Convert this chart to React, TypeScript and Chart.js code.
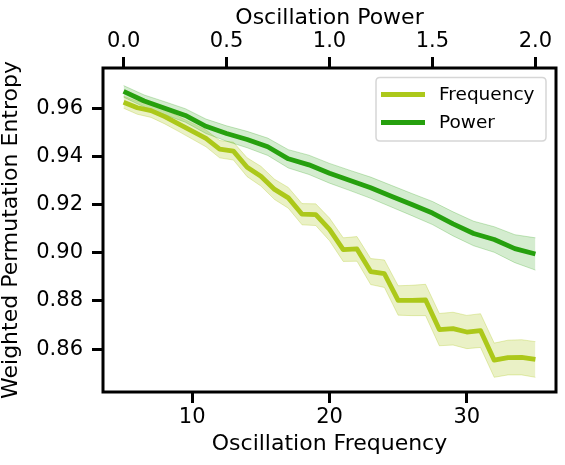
import React, { useEffect, useRef } from "react";
import { Chart, registerables } from "chart.js";

Chart.register(...registerables);

// ---- Data ----
const frequencies = [5, 6, 7, 8, 9, 10, 11, 12, 13, 14, 15, 16, 17, 18, 19, 20, 21, 22, 23, 24, 25, 26, 27, 28, 29, 30, 31, 32, 33, 34, 35];
const freqMean = [
  0.9625, 0.9602, 0.959, 0.9565, 0.9535, 0.9505, 0.9475, 0.943, 0.9422, 0.9355,
  0.9318, 0.9263, 0.9228, 0.916, 0.9158, 0.9097, 0.9013, 0.9016, 0.8922, 0.8913,
  0.8802, 0.8802, 0.8804, 0.8681, 0.8685, 0.8671, 0.8677, 0.8554, 0.8565, 0.8566, 0.8557,
];
const freqErr = [
  0.0025, 0.0027, 0.0028, 0.003, 0.0031, 0.0033, 0.0035, 0.0036, 0.0037, 0.0039,
  0.0041, 0.0042, 0.0043, 0.0044, 0.0045, 0.0047, 0.0049, 0.0051, 0.0054, 0.0057,
  0.0061, 0.0063, 0.0065, 0.0067, 0.0068, 0.0069, 0.007, 0.0071, 0.0072, 0.0073, 0.0074,
];

const powers = [0, 0.1, 0.2, 0.3, 0.4, 0.5, 0.6, 0.7, 0.8, 0.9, 1.0, 1.1, 1.2, 1.3, 1.4, 1.5, 1.6, 1.7, 1.8, 1.9, 2.0];
const powerMean = [
  0.967, 0.963, 0.96, 0.957, 0.9525, 0.9495, 0.947, 0.944, 0.939, 0.9365,
  0.933, 0.93, 0.927, 0.9235, 0.92, 0.9165, 0.912, 0.908, 0.9055, 0.9017, 0.8995,
];
const powerErr = [
  0.0024, 0.0025, 0.0027, 0.0028, 0.003, 0.0032, 0.0034, 0.0036, 0.0038, 0.004,
  0.0041, 0.0042, 0.0044, 0.0045, 0.0046, 0.0048, 0.005, 0.0051, 0.0053, 0.0058, 0.0067,
];

const freqTicks = [10, 20, 30];
const powerTicks = [0, 0.5, 1.0, 1.5, 2.0];
const entropyTicks = [0.86, 0.88, 0.9, 0.92, 0.94, 0.96];

const seriesLabels = ["Frequency", "Power"];

// ---- Styles ----
const FREQ_RGB = "172,200,26";
const POWER_RGB = "38,160,14";
const FONT = "'DejaVu Sans', sans-serif";

const framePlugin = {
  id: "frame",
  afterDraw(chart: any) {
    const { ctx, chartArea } = chart;
    ctx.save();
    ctx.strokeStyle = "#000";
    ctx.lineWidth = 3;
    ctx.strokeRect(chartArea.left, chartArea.top, chartArea.right - chartArea.left, chartArea.bottom - chartArea.top);
    ctx.restore();
  },
};

const legendPlugin = {
  id: "customLegend",
  afterDraw(chart: any) {
    const { ctx, chartArea } = chart;
    const x = chartArea.right - 180;
    const y = chartArea.top + 9.5;
    const w = 170;
    const h = 63.5;
    const r = 4;
    ctx.save();
    ctx.beginPath();
    ctx.moveTo(x + r, y);
    ctx.lineTo(x + w - r, y);
    ctx.quadraticCurveTo(x + w, y, x + w, y + r);
    ctx.lineTo(x + w, y + h - r);
    ctx.quadraticCurveTo(x + w, y + h, x + w - r, y + h);
    ctx.lineTo(x + r, y + h);
    ctx.quadraticCurveTo(x, y + h, x, y + h - r);
    ctx.lineTo(x, y + r);
    ctx.quadraticCurveTo(x, y, x + r, y);
    ctx.closePath();
    ctx.fillStyle = "rgba(255,255,255,0.8)";
    ctx.fill();
    ctx.strokeStyle = "#d6d6d6";
    ctx.lineWidth = 1.5;
    ctx.stroke();
    const colors = [`rgb(${FREQ_RGB})`, `rgb(${POWER_RGB})`];
    const rows = [y + 17, y + 45];
    ctx.font = `18.5px ${FONT}`;
    ctx.textBaseline = "middle";
    ctx.textAlign = "left";
    seriesLabels.forEach((label, i) => {
      ctx.beginPath();
      ctx.strokeStyle = colors[i];
      ctx.lineWidth = 4.8;
      ctx.moveTo(x + 5, rows[i]);
      ctx.lineTo(x + 49, rows[i]);
      ctx.stroke();
      ctx.fillStyle = "#000";
      ctx.fillText(label, x + 63, rows[i] + 1);
    });
    ctx.restore();
  },
};

export default function App() {
  const canvasRef = useRef<HTMLCanvasElement | null>(null);

  useEffect(() => {
    if (!canvasRef.current) return;
    const freqPts = frequencies.map((f, i) => ({ x: f, y: freqMean[i] }));
    const freqLow = frequencies.map((f, i) => ({ x: f, y: freqMean[i] - freqErr[i] }));
    const freqHigh = frequencies.map((f, i) => ({ x: f, y: freqMean[i] + freqErr[i] }));
    const powPts = powers.map((p, i) => ({ x: p, y: powerMean[i] }));
    const powLow = powers.map((p, i) => ({ x: p, y: powerMean[i] - powerErr[i] }));
    const powHigh = powers.map((p, i) => ({ x: p, y: powerMean[i] + powerErr[i] }));

    const tickFont = { family: FONT, size: 21 };
    const titleFont = { family: FONT, size: 22 };
    const gridOpts = { drawOnChartArea: false, drawTicks: true, tickLength: 11, tickWidth: 3, tickColor: "#000" };

    const chart = new Chart(canvasRef.current, {
      type: "line",
      data: {
        datasets: [
          {
            label: seriesLabels[0],
            data: freqPts,
            xAxisID: "x",
            yAxisID: "y",
            borderColor: `rgb(${FREQ_RGB})`,
            borderWidth: 4.8,
            borderJoinStyle: "round",
            pointRadius: 0,
            fill: false,
            order: 1,
          },
          {
            label: seriesLabels[1],
            data: powPts,
            xAxisID: "x2",
            yAxisID: "y",
            borderColor: `rgb(${POWER_RGB})`,
            borderWidth: 4.8,
            borderJoinStyle: "round",
            pointRadius: 0,
            fill: false,
            order: 0,
          },
          {
            label: "freqLow",
            data: freqLow,
            xAxisID: "x",
            yAxisID: "y",
            borderColor: `rgba(${FREQ_RGB},0.3)`,
            borderWidth: 1,
            pointRadius: 0,
            fill: false,
            order: 3,
          },
          {
            label: "freqHigh",
            data: freqHigh,
            xAxisID: "x",
            yAxisID: "y",
            borderColor: `rgba(${FREQ_RGB},0.3)`,
            backgroundColor: `rgba(${FREQ_RGB},0.25)`,
            borderWidth: 1,
            pointRadius: 0,
            fill: "-1",
            order: 3,
          },
          {
            label: "powLow",
            data: powLow,
            xAxisID: "x2",
            yAxisID: "y",
            borderColor: `rgba(${POWER_RGB},0.25)`,
            borderWidth: 1,
            pointRadius: 0,
            fill: false,
            order: 2,
          },
          {
            label: "powHigh",
            data: powHigh,
            xAxisID: "x2",
            yAxisID: "y",
            borderColor: `rgba(${POWER_RGB},0.25)`,
            backgroundColor: `rgba(${POWER_RGB},0.2)`,
            borderWidth: 1,
            pointRadius: 0,
            fill: "-1",
            order: 2,
          },
        ],
      },
      options: {
        animation: false,
        responsive: false,
        maintainAspectRatio: false,
        layout: { padding: { left: 0, right: 9, top: 0, bottom: 0 } },
        plugins: { legend: { display: false }, tooltip: { enabled: false } },
        scales: {
          x: {
            type: "linear",
            position: "bottom",
            min: 3.5,
            max: 36.5,
            afterBuildTicks: (s: any) => {
              s.ticks = freqTicks.map((v) => ({ value: v }));
            },
            afterFit: (s: any) => {
              s.height = 73;
            },
            ticks: { font: tickFont, color: "#000", padding: 1.5, maxRotation: 0, autoSkip: false, callback: (v: any) => String(v) },
            grid: gridOpts,
            border: { display: false },
            title: { display: true, text: "Oscillation Frequency", font: titleFont, color: "#000", padding: { top: 0, bottom: 7.5 } },
          },
          x2: {
            type: "linear",
            position: "top",
            min: -0.1,
            max: 2.1,
            afterBuildTicks: (s: any) => {
              s.ticks = powerTicks.map((v) => ({ value: v }));
            },
            afterFit: (s: any) => {
              s.height = 68;
            },
            ticks: { font: tickFont, color: "#000", padding: 3, maxRotation: 0, autoSkip: false, callback: (v: any) => Number(v).toFixed(1) },
            grid: gridOpts,
            border: { display: false },
            title: { display: true, text: "Oscillation Power", font: titleFont, color: "#000", padding: { top: 5, bottom: 0 } },
          },
          y: {
            type: "linear",
            position: "left",
            min: 0.8422,
            max: 0.9767,
            afterBuildTicks: (s: any) => {
              s.ticks = entropyTicks.map((v) => ({ value: v }));
            },
            afterFit: (s: any) => {
              s.width = 103;
            },
            ticks: { font: tickFont, color: "#000", padding: 9, autoSkip: false, callback: (v: any) => Number(v).toFixed(2) },
            grid: gridOpts,
            border: { display: false },
            title: { display: true, text: "Weighted Permutation Entropy", font: titleFont, color: "#000", padding: { top: -2, bottom: 0 } },
          },
        },
      },
      plugins: [framePlugin, legendPlugin],
    } as any);

    return () => chart.destroy();
  }, []);

  return (
    <div style={{ position: "absolute", left: 0, top: 0, width: 565, height: 465, background: "#fff" }}>
      <canvas ref={canvasRef} width={565} height={465} style={{ display: "block" }} />
    </div>
  );
}
